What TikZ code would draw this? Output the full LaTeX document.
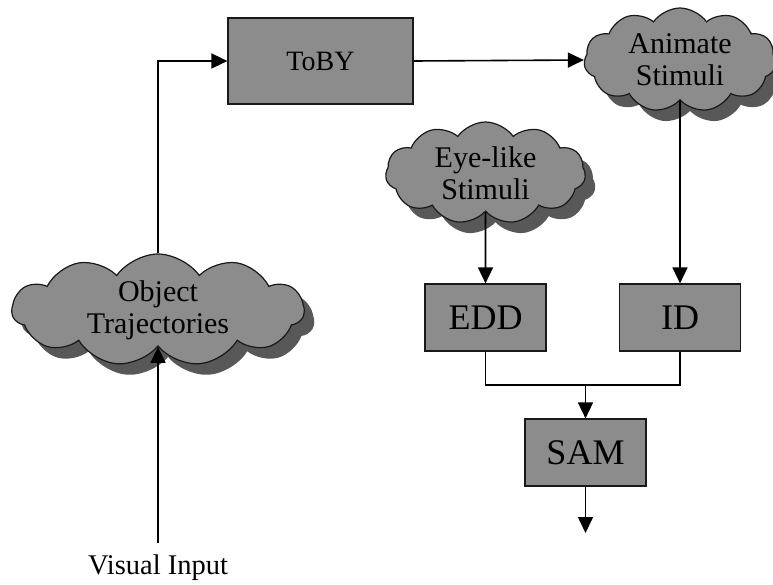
\documentclass[tikz,border=0pt]{standalone}
\usepackage{fontspec}
\setmainfont{Liberation Serif}
\usetikzlibrary{arrows.meta,shapes.symbols,shadows}
\definecolor{boxgray}{HTML}{8C8C8C}
\definecolor{shadowgray}{HTML}{585858}
\tikzset{
  boxnode/.style={draw=black!90,line width=1.2pt,fill=boxgray,inner sep=0pt},
  cloudnode/.style={cloud,cloud puffs=11,cloud puff arc=110,cloud ignores aspect,
    draw=black!90,line width=1.2pt,fill=boxgray,align=center,inner sep=0pt,
    font=\fontsize{30}{32}\selectfont,
    drop shadow={shadow xshift=10pt,shadow yshift=-11pt,fill=shadowgray,opacity=1}},
  conn/.style={line width=1.6pt,draw=black},
  arr/.style={conn,-{Triangle[length=16pt,width=15pt]}}
}
\begin{document}
\begin{tikzpicture}[x=1pt,y=-1pt]
\useasboundingbox (0,0) rectangle (773,584);
% boxes
\node[boxnode,minimum width=185pt,minimum height=86pt,font=\fontsize{28}{32}\selectfont] (toby) at (320.5,61) {ToBY};
\node[boxnode,minimum width=121pt,minimum height=67pt,font=\fontsize{36}{40}\selectfont] (edd) at (485.5,317.5) {EDD};
\node[boxnode,minimum width=121pt,minimum height=67pt,font=\fontsize{36}{40}\selectfont] (id) at (680,317.5) {ID};
\node[boxnode,minimum width=121pt,minimum height=67pt,font=\fontsize{36}{40}\selectfont] (sam) at (585.5,452.5) {SAM};
% clouds
\node[cloudnode,minimum width=292pt,minimum height=112pt] (ot) at (158,310) {Object\\Trajectories};
\node[cloudnode,minimum width=192pt,minimum height=104pt] (anim) at (680,60) {Animate\\Stimuli};
\node[cloudnode,minimum width=200pt,minimum height=102pt] (eye) at (485.5,173) {Eye-like\\Stimuli};
% text
\node[font=\fontsize{28.5}{32}\selectfont,inner sep=0pt] (vis) at (158,568) {Visual Input};
% helper coordinates
\coordinate (j) at (585.5,385);
\coordinate (out) at (585.5,533);
% connectors
\draw[arr] (vis.north -| ot.south) ++(0,-12) -- (ot.south);
\draw[arr] (ot.north) |- (toby.west);
\draw[arr] (toby.east) -- (anim.west);
\draw[arr] (anim.south) -- (id.north);
\draw[arr] (eye.south) -- (edd.north);
\draw[conn] (edd.south) |- (j) -| (id.south);
\draw[arr] (j) -- (sam.north);
\draw[arr] (sam.south) -- (out);
\end{tikzpicture}
\end{document}
